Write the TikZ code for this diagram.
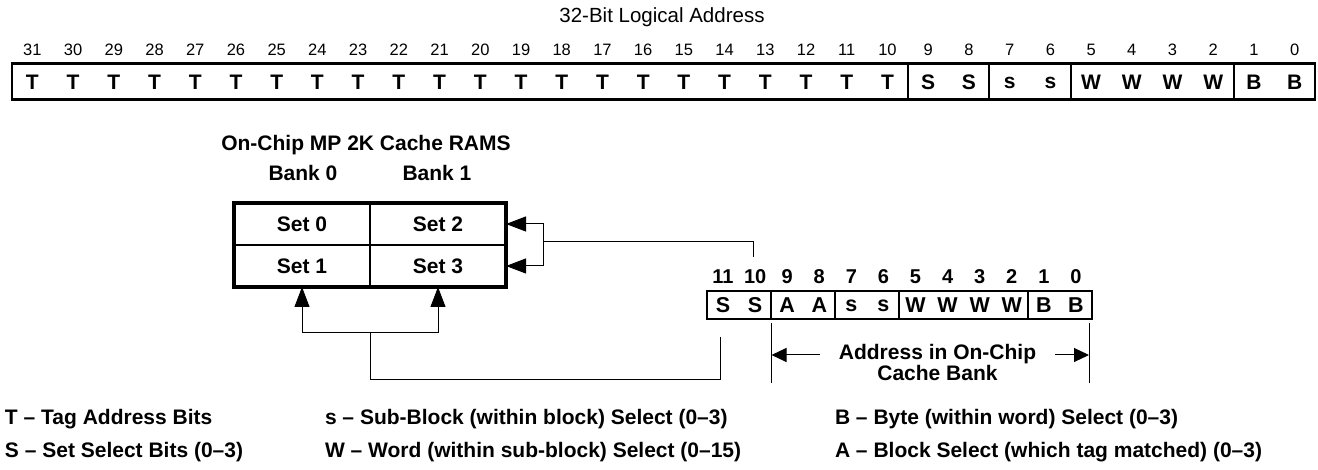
\documentclass[tikz,border=0pt]{standalone}
\usepackage{fontspec}
\setmainfont{Liberation Sans}
\usetikzlibrary{arrows.meta}
\begin{document}
\begin{tikzpicture}[x=1pt,y=-1pt,
  every node/.style={inner sep=0pt,outer sep=0pt},
  bitlab/.style={font=\fontsize{16.5}{16.5}\selectfont},
  reglet/.style={font=\fontsize{21}{21}\selectfont\bfseries},
  smlab/.style={font=\fontsize{20}{20}\selectfont\bfseries},
  smlet/.style={font=\fontsize{21.5}{21.5}\selectfont\bfseries},
  btxt/.style={font=\fontsize{21}{21}\selectfont\bfseries},
  titletxt/.style={font=\fontsize{20.5}{20.5}\selectfont},
  legend/.style={font=\fontsize{21}{21}\selectfont\bfseries,anchor=west},
  regbox/.style={draw,line width=2.6pt},
  grpline/.style={line width=2pt},
  cell/.style={draw,line width=1.3pt,minimum width=136pt,minimum height=42pt,font=\fontsize{21}{21}\selectfont\bfseries},
  conn/.style={line width=1pt},
  arr/.style={line width=1pt,-{Triangle[length=20pt,width=15pt]}},
  darr/.style={line width=1pt,-{Triangle[length=15pt,width=14pt]}}
]
\useasboundingbox (0,0) rectangle (1318,470);

% ---------- 32-bit logical address ----------
\node[titletxt] (title) at (662,17) {32-Bit Logical Address};
\node[regbox,minimum width=1303pt,minimum height=36pt] (reg) at (663.5,81.5) {};
\foreach \b/\l [evaluate=\b as \xc using {12+40.72*(31-\b)+20.36}] in
  {31/T,30/T,29/T,28/T,27/T,26/T,25/T,24/T,23/T,22/T,21/T,20/T,19/T,18/T,17/T,16/T,
   15/T,14/T,13/T,12/T,11/T,10/T,9/S,8/S,7/s,6/s,5/W,4/W,3/W,2/W,1/B,0/B}{
  \node[bitlab] (tl\b) at (\xc,50) {\b};
  \node[reglet] (tc\b) at (\xc,82.5) {\l};
}
\foreach \k in {22,24,26,30}{
  \draw[grpline] (12+40.72*\k,63.5) -- (12+40.72*\k,99.5);
}

% ---------- On-chip cache RAMs ----------
\node[btxt] (ctitle) at (366,145) {On-Chip MP 2K Cache RAMS};
\node[btxt] (bank0) at (303,173) {Bank 0};
\node[btxt] (bank1) at (437,173) {Bank 1};
\node[cell] (set0) at (302,224) {Set 0};
\node[cell] (set1) at (302,266) {Set 1};
\node[cell] (set2) at (438,224) {Set 2};
\node[cell] (set3) at (438,266) {Set 3};
\draw[line width=3.2pt] (set0.north west) rectangle (set3.south east);

% ---------- 12-bit on-chip address ----------
\node[draw,line width=2.8pt,minimum width=385pt,minimum height=28pt] (sreg) at (899.5,305) {};
\foreach \b/\l [evaluate=\b as \xc using {707+32.08*(11-\b)+16.04}] in
  {11/S,10/S,9/A,8/A,7/s,6/s,5/W,4/W,3/W,2/W,1/B,0/B}{
  \node[smlab] (sl\b) at (\xc,277) {\b};
  \node[smlet] (sc\b) at (\xc,305.5) {\l};
}
\foreach \k in {2,4,6,10}{
  \draw[grpline] (707+32.08*\k,291) -- (707+32.08*\k,319);
}

% ---------- connectors ----------
\coordinate (t10) at (753,257);
\coordinate (jR) at (543,242);
\draw[conn] (t10) |- (jR);
\draw[arr] (jR) |- (set2.east);
\draw[arr] (jR) |- (set3.east);

\coordinate (b11) at (720,337);
\coordinate (jB) at (370,333);
\coordinate (jB2) at (370,379.5);
\draw[conn] (b11) |- (jB2) -- (jB);
\draw[arr] (jB) -| (set1.south);
\draw[arr] (jB) -| (set3.south);

% ---------- address in on-chip cache bank ----------
\coordinate (dLt) at (771.5,323);
\coordinate (dLb) at (771.5,383);
\coordinate (dRt) at (1089,323);
\coordinate (dRb) at (1089,383);
\coordinate (dLm) at (771.5,355);
\coordinate (dRm) at (1089,355);
\draw[conn] (dLt) -- (dLb);
\draw[conn] (dRt) -- (dRb);
\node[btxt,align=center] (addr) at (937.5,362) {Address in On-Chip\\Cache Bank};
\coordinate (aL) at (820,355);
\coordinate (aR) at (1055,355);
\draw[darr] (aL) -- (dLm);
\draw[darr] (aR) -- (dRm);

% ---------- legend ----------
\node[legend] (lgT) at (5,419) {T – Tag Address Bits};
\node[legend] (lgS) at (5,452) {S – Set Select Bits (0–3)};
\node[legend] (lgs) at (325,419) {s – Sub-Block (within block) Select (0–3)};
\node[legend] (lgW) at (325,452) {W – Word (within sub-block) Select (0–15)};
\node[legend] (lgB) at (835,419) {B – Byte (within word) Select (0–3)};
\node[legend] (lgA) at (835,452) {A – Block Select (which tag matched) (0–3)};
\end{tikzpicture}
\end{document}
